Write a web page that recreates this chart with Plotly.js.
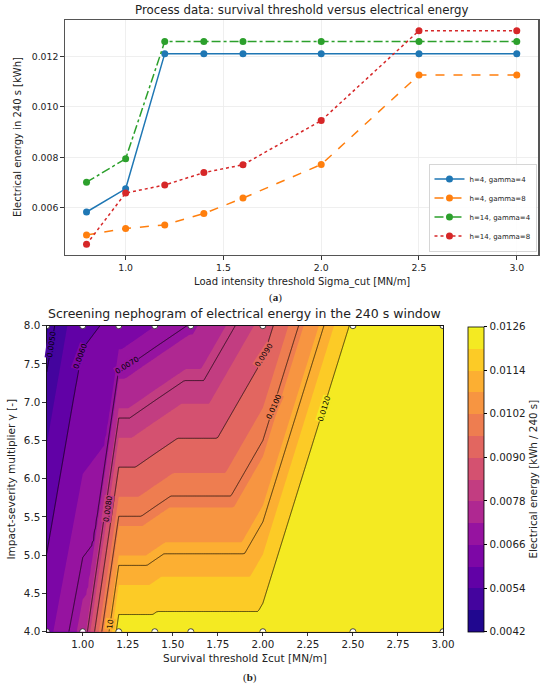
<!DOCTYPE html>
<html>
<head>
<meta charset="utf-8">
<script src="https://cdn.plot.ly/plotly-3.0.1.min.js"></script>
<style>html,body{margin:0;padding:0;background:#fff;}#chart{width:550px;height:685px;}</style>
</head>
<body>
<div id="chart"></div>
<script>
// ---- data ----
const sigmaCut = [0.8, 1.0, 1.2, 1.4, 1.6, 2.0, 2.5, 3.0];
const h4_gamma4  = [0.00584, 0.00676, 0.01211, 0.01211, 0.01211, 0.01211, 0.01211, 0.01211];
const h4_gamma8  = [0.00493, 0.00519, 0.00533, 0.00578, 0.00639, 0.00772, 0.01127, 0.01127];
const h14_gamma4 = [0.00702, 0.00795, 0.01259, 0.01259, 0.01259, 0.01259, 0.01259, 0.01259];
const h14_gamma8 = [0.00456, 0.00659, 0.00691, 0.00740, 0.00771, 0.00946, 0.01302, 0.01302];
const seriesNames = ['h=4, gamma=4', 'h=4, gamma=8', 'h=14, gamma=4', 'h=14, gamma=8'];
const gammaLevels = [4, 8];
const topTicks = [1.0, 1.5, 2.0, 2.5, 3.0];
const topYTicks = [0.006, 0.008, 0.010, 0.012];
const botXTicks = [1.00, 1.25, 1.50, 1.75, 2.00, 2.25, 2.50, 2.75, 3.00];
const botYTicks = [4.0, 4.5, 5.0, 5.5, 6.0, 6.5, 7.0, 7.5, 8.0];
const cbTicks = [0.0042, 0.0054, 0.0066, 0.0078, 0.0090, 0.0102, 0.0114, 0.0126];
const lineLevels = [0.0050, 0.0060, 0.0070, 0.0080, 0.0090, 0.0100, 0.0110, 0.0120];
// triangulation of the sample points (B = gamma 4 row, T = gamma 8 row), as used by the original tricontour
const mesh = [['B0','T0','T1'],['B0','B1','T1'],['B1','T1','T2'],['B1','B2','T2'],['B2','B3','T2'],
              ['B3','T2','T3'],['B3','T3','T4'],['B3','B4','T4'],['B4','B5','T4'],['B5','T4','T5'],
              ['B5','T5','T6'],['B5','B6','T6'],['B6','T6','T7'],['B6','B7','T7']];

// screening field: mean over h at each gamma row
const zLow  = sigmaCut.map((_, i) => (h4_gamma4[i] + h14_gamma4[i]) / 2);
const zHigh = sigmaCut.map((_, i) => (h4_gamma8[i] + h14_gamma8[i]) / 2);

function node(id) {
  const i = +id.slice(1);
  return id[0] === 'B' ? [sigmaCut[i], gammaLevels[0], zLow[i]] : [sigmaCut[i], gammaLevels[1], zHigh[i]];
}
const tris = mesh.map(t => t.map(node));
function field(x, y) {
  for (const [a, b, c] of tris) {
    const d = (b[1] - c[1]) * (a[0] - c[0]) + (c[0] - b[0]) * (a[1] - c[1]);
    const l1 = ((b[1] - c[1]) * (x - c[0]) + (c[0] - b[0]) * (y - c[1])) / d;
    const l2 = ((c[1] - a[1]) * (x - c[0]) + (a[0] - c[0]) * (y - c[1])) / d;
    const l3 = 1 - l1 - l2;
    if (l1 >= -1e-9 && l2 >= -1e-9 && l3 >= -1e-9) return l1 * a[2] + l2 * b[2] + l3 * c[2];
  }
  return null;
}
const gx = [], gy = [];
for (let i = 0; i <= 220; i++) gx.push(+(sigmaCut[0] + i * (sigmaCut[sigmaCut.length - 1] - sigmaCut[0]) / 220).toFixed(5));
for (let j = 0; j <= 200; j++) gy.push(+(gammaLevels[0] + j * (gammaLevels[1] - gammaLevels[0]) / 200).toFixed(5));
const gz = gy.map(y => gx.map(x => field(x, y)));

// plasma colormap
const plasmaStops = ['#0d0887','#41049d','#6a00a8','#8f0da4','#b12a90','#cc4778','#e16462','#f2844b','#fca636','#fcce25','#f0f921'];
function hex2rgb(h) { return [1,3,5].map(k => parseInt(h.slice(k, k + 2), 16)); }
function plasma(t) {
  const p = Math.max(0, Math.min(1, t)) * 10, i = Math.min(9, Math.floor(p)), f = p - i;
  const a = hex2rgb(plasmaStops[i]), b = hex2rgb(plasmaStops[i + 1]);
  return 'rgb(' + a.map((v, k) => Math.round(v + (b[k] - v) * f)).join(',') + ')';
}
const cscale = plasmaStops.map((c, i) => [i / 10, c]);
const fStart = 0.0042, fEnd = 0.0126, fSize = 0.0006;
const nBands = Math.round((fEnd - fStart) / fSize);
function bandColor(v) {
  const k = Math.min(nBands - 1, Math.floor((v - fStart) / fSize + 1e-6));
  return plasma((k + 0.5) / nBands);
}

// contour-label placement (style/layout, mirrors the reference clabel positions)
const labelPlacement = [
  {level: 0.0050, x: 0.828, y: 7.75, angle: -82},
  {level: 0.0060, x: 0.985, y: 7.60, angle: -70},
  {level: 0.0070, x: 1.244, y: 7.48, angle: -32},
  {level: 0.0080, x: 1.138, y: 5.60, angle: -82},
  {level: 0.0090, x: 2.005, y: 7.61, angle: -57},
  {level: 0.0100, x: 2.063, y: 6.94, angle: -66},
  {level: 0.0120, x: 2.337, y: 6.91, angle: -72},
  {level: 0.0110, x: 1.150, y: 4.10, angle: -82, text: '10'}
];

const colors = ['#1f77b4', '#ff7f0e', '#2ca02c', '#d62728'];
const dashes = ['solid', 'dash', 'dashdot', 'dot'];
const ser = [h4_gamma4, h4_gamma8, h14_gamma4, h14_gamma8];
const traces = ser.map((v, i) => ({
  type: 'scatter', mode: 'lines+markers', x: sigmaCut, y: v, name: seriesNames[i],
  line: {color: colors[i], width: 1.5, dash: dashes[i]},
  marker: {color: colors[i], size: 7}, xaxis: 'x', yaxis: 'y'
}));

traces.push({
  type: 'contour', x: gx, y: gy, z: gz, xaxis: 'x2', yaxis: 'y2', showlegend: false, hoverinfo: 'skip',
  autocontour: false, contours: {start: fStart, end: fEnd, size: fSize, coloring: 'fill', showlines: false},
  zmin: fStart, zmax: fEnd + 1e-8,
  line: {width: 0, smoothing: 0}, colorscale: cscale,
  colorbar: {x: 0.8515, xanchor: 'left', y: 0.0778, yanchor: 'bottom', len: 0.4457, lenmode: 'fraction',
    thickness: 15.7, thicknessmode: 'pixels', outlinecolor: '#000', outlinewidth: 0.8, xpad: 0, ypad: 0,
    tickmode: 'array', tickvals: cbTicks, ticktext: cbTicks.map(v => v.toFixed(4)), ticks: 'outside', ticklen: 3.5,
    tickcolor: '#000', tickfont: {size: 10.3, color: '#222'},
    title: {text: 'Electrical energy [kWh / 240 s]', side: 'right', font: {size: 10.3, color: '#222'}}}
});
traces.push({
  type: 'contour', x: gx, y: gy, z: gz, xaxis: 'x2', yaxis: 'y2', showlegend: false, showscale: false, hoverinfo: 'skip',
  autocontour: false, contours: {start: lineLevels[0], end: lineLevels[lineLevels.length - 1], size: 0.001,
    coloring: 'none', showlabels: false},
  line: {color: '#000', width: 0.7, smoothing: 0}
});
traces.push({
  type: 'scatter', mode: 'markers', xaxis: 'x2', yaxis: 'y2', showlegend: false, hoverinfo: 'skip',
  x: sigmaCut.concat(sigmaCut), y: sigmaCut.map(() => gammaLevels[0]).concat(sigmaCut.map(() => gammaLevels[1])),
  marker: {color: '#fff', size: 6, line: {color: '#333', width: 0.9}}
});

const axBase = {ticks: 'outside', ticklen: 3.5, tickcolor: '#333', showline: true, mirror: true, zeroline: false,
  tickfont: {size: 9.3, color: '#222'}};
function ann(text, px, py, size, extra) {
  return Object.assign({text: text, x: px / 550, y: 1 - py / 685, xref: 'paper', yref: 'paper', showarrow: false,
    xanchor: 'center', yanchor: 'middle', font: {size: size, color: '#222'}}, extra || {});
}
const annotations = [
  ann('Process data: survival threshold versus electrical energy', 301.7, 10, 11.8),
  ann('Load intensity threshold Sigma_cut [MN/m]', 301.7, 281.7, 10),
  ann('Electrical energy in 240 s [kWh]', 17.5, 137.5, 10, {textangle: -90}),
  ann('(<b>a</b>)', 275, 297, 11, {font: {size: 11, family: 'Liberation Serif', color: '#222'}}),
  ann('Screening nephogram of electrical energy in the 240 s window', 244.9, 313.5, 12.5),
  ann('Survival threshold Σcut [MN/m]', 244.9, 658, 10.5),
  ann('Impact-severity multiplier γ [-]', 10.8, 478.7, 10.5, {textangle: -90}),
  ann('(<b>b</b>)', 250, 677, 11, {font: {size: 11, family: 'Liberation Serif', color: '#222'}})
];
labelPlacement.forEach(p => annotations.push({
  text: p.text || p.level.toFixed(4), x: p.x, y: p.y, xref: 'x2', yref: 'y2', showarrow: false,
  xanchor: 'center', yanchor: 'middle', textangle: p.angle, bgcolor: bandColor(p.level), borderpad: 0,
  font: {size: 7.5, color: '#000'}
}));

const layout = {
  width: 550, height: 685, margin: {l: 0, r: 0, t: 0, b: 0}, paper_bgcolor: '#fff', plot_bgcolor: '#fff',
  font: {family: 'DejaVu Sans', color: '#222'}, showlegend: true,
  xaxis: Object.assign({}, axBase, {domain: [0.1182, 0.9787], anchor: 'y', range: [0.69, 3.11],
    tickmode: 'array', tickvals: topTicks, ticktext: topTicks.map(v => v.toFixed(1)),
    showgrid: true, gridcolor: '#ebebeb', gridwidth: 0.8, linecolor: '#555', linewidth: 1.3}),
  yaxis: Object.assign({}, axBase, {domain: [0.6277, 0.9708], anchor: 'x', range: [0.004137, 0.013443],
    tickmode: 'array', tickvals: topYTicks, ticktext: topYTicks.map(v => v.toFixed(3)),
    showgrid: true, gridcolor: '#ebebeb', gridwidth: 0.8, linecolor: '#555', linewidth: 1.3}),
  xaxis2: Object.assign({}, axBase, {domain: [0.0849, 0.8055], anchor: 'y2', range: [0.8, 3.0],
    tickmode: 'array', tickvals: botXTicks, ticktext: botXTicks.map(v => v.toFixed(2)),
    showgrid: false, linecolor: '#000', linewidth: 0.9, tickfont: {size: 10.3, color: '#222'}}),
  yaxis2: Object.assign({}, axBase, {domain: [0.0778, 0.5245], anchor: 'x2', range: [4, 8],
    tickmode: 'array', tickvals: botYTicks, ticktext: botYTicks.map(v => v.toFixed(1)),
    showgrid: false, linecolor: '#000', linewidth: 0.9, tickfont: {size: 10.3, color: '#222'}}),
  legend: {x: 0.9758, xanchor: 'right', y: 0.6326, yanchor: 'bottom', font: {size: 7, color: '#222'},
    bgcolor: 'rgba(255,255,255,0.85)', bordercolor: '#cccccc', borderwidth: 0.8, tracegroupgap: 0, itemwidth: 30},
  annotations: annotations
};
Plotly.newPlot('chart', traces, layout, {staticPlot: true, displayModeBar: false});
</script>
</body>
</html>
